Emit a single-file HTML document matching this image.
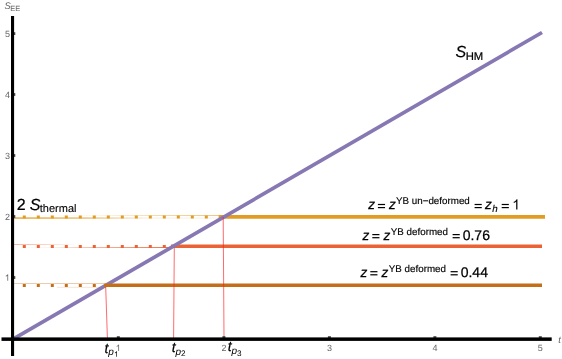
<!DOCTYPE html>
<html>
<head>
<meta charset="utf-8">
<title>Entanglement entropy plot</title>
<style>
  html, body { margin: 0; padding: 0; background: #ffffff; }
  body { width: 562px; height: 359px; overflow: hidden; font-family: "Liberation Sans", sans-serif; }
  svg { display: block; will-change: transform; }
  text { font-family: "Liberation Sans", sans-serif; text-rendering: geometricPrecision; }
  .tick { font-size: 9px; fill: #666666; }
  .lab { font-size: 14px; fill: #000000; }
  .sup { font-size: 9.8px; fill: #000000; }
  .big { font-size: 16px; fill: #000000; }
  .it { font-style: italic; }
</style>
</head>
<body>
<svg width="562" height="359" viewBox="0 0 562 359">
  <rect x="0" y="0" width="562" height="359" fill="#ffffff"/>
  <defs>
    <path id="one" d="M763 0 L583 0 L583 1147 Q518 1085 412.5 1023 Q307 961 223 930 L223 1104 Q374 1175 487 1276 Q600 1377 647 1472 L763 1472 Z"/>
    <g id="eq"><rect x="0" y="-5.5" width="7.15" height="1.2"/><rect x="0" y="-2.4" width="7.15" height="1.2"/></g>
  </defs>

  <!-- thin guide lines of dotted segments -->
  <linearGradient id="gyb" x1="0" y1="0" x2="1" y2="0"><stop offset="0" stop-color="#E19C24" stop-opacity="1"/><stop offset="0.35" stop-color="#E19C24" stop-opacity="0.7"/><stop offset="0.65" stop-color="#E19C24" stop-opacity="0.15"/><stop offset="1" stop-color="#E19C24" stop-opacity="0.1"/></linearGradient>
  <linearGradient id="gyt" x1="0" y1="0" x2="1" y2="0"><stop offset="0" stop-color="#E19C24" stop-opacity="0"/><stop offset="0.4" stop-color="#E19C24" stop-opacity="0.1"/><stop offset="0.7" stop-color="#E19C24" stop-opacity="0.45"/><stop offset="1" stop-color="#E19C24" stop-opacity="0.7"/></linearGradient>
  <linearGradient id="grt" x1="0" y1="0" x2="1" y2="0"><stop offset="0" stop-color="#EB6235" stop-opacity="0.85"/><stop offset="0.2" stop-color="#EB6235" stop-opacity="0.5"/><stop offset="0.4" stop-color="#EB6235" stop-opacity="0"/><stop offset="1" stop-color="#EB6235" stop-opacity="0"/></linearGradient>
  <linearGradient id="grb" x1="0" y1="0" x2="1" y2="0"><stop offset="0" stop-color="#EB6235" stop-opacity="0"/><stop offset="0.25" stop-color="#EB6235" stop-opacity="0.1"/><stop offset="0.5" stop-color="#EB6235" stop-opacity="0.5"/><stop offset="1" stop-color="#EB6235" stop-opacity="1"/></linearGradient>
  <rect x="14" y="217.4" width="205" height="1.3" fill="url(#gyb)"/>
  <rect x="14" y="215.0" width="205" height="0.8" fill="url(#gyt)"/>
  <rect x="14" y="244.2" width="158" height="0.55" fill="url(#grt)"/>
  <rect x="14" y="247.0" width="158" height="0.9" fill="url(#grb)"/>
  <rect x="14" y="283.3" width="90" height="0.7" fill="#C56E1A" fill-opacity="0.5"/>
  <rect x="57" y="286.9" width="47" height="0.7" fill="#C56E1A" fill-opacity="0.25"/>

  <!-- dotted segments -->
  <g stroke-width="3.1" fill="none" stroke-dasharray="3 11">
    <line x1="22.8" y1="216.95" x2="219" y2="216.95" stroke="#E19C24"/>
    <line x1="22.8" y1="246.45" x2="172" y2="246.45" stroke="#EB6235"/>
    <line x1="22.8" y1="285.45" x2="104" y2="285.45" stroke="#C56E1A"/>
  </g>

  <!-- solid yellow / red -->
  <line x1="218.8" y1="216.9" x2="545" y2="216.9" stroke="#E19C24" stroke-width="3.6"/>
  <line x1="171" y1="246.2" x2="542" y2="246.2" stroke="#EB6235" stroke-width="3.4"/>

  <!-- purple S_HM line -->
  <line x1="13" y1="339.2" x2="542" y2="32.5" stroke="#8778B3" stroke-width="3.7"/>

  <!-- brown solid (on top of purple) -->
  <line x1="104" y1="285.3" x2="542" y2="285.3" stroke="#C56E1A" stroke-width="3.4"/>

  <!-- thin red vertical lines -->
  <g stroke="#FF1A1A" stroke-width="0.65" fill="none">
    <line x1="105.7" y1="287" x2="107.4" y2="338"/>
    <line x1="174.3" y1="247.8" x2="173.6" y2="338"/>
    <line x1="223.2" y1="217" x2="224" y2="338"/>
  </g>

  <!-- ticks -->
  <g fill="#444444">
    <rect x="116.8" y="336.2" width="3" height="2"/>
    <rect x="222.4" y="336.2" width="3" height="2"/>
    <rect x="327.9" y="336.2" width="3" height="2"/>
    <rect x="433.4" y="336.2" width="3" height="2"/>
    <rect x="538.8" y="336.2" width="3" height="2"/>
    <rect x="13.5" y="32.2" width="1.8" height="2.8"/>
    <rect x="13.5" y="93.1" width="1.8" height="2.8"/>
    <rect x="13.5" y="154.1" width="1.8" height="2.8"/>
    <rect x="13.5" y="215.1" width="1.8" height="2.8"/>
    <rect x="13.5" y="276.1" width="1.8" height="2.8"/>
  </g>

  <!-- axes -->
  <rect x="11" y="16" width="3.1" height="340" fill="#000000"/>
  <rect x="1.5" y="337.4" width="550.2" height="3.5" fill="#000000"/>

  <!-- y tick labels -->
  <g class="tick" text-anchor="middle">
    <text x="7.4" y="36.7">5</text>
    <text x="7.4" y="97.7">4</text>
    <text x="7.4" y="158.7">3</text>
    <text x="7.4" y="219.7">2</text>
    <use href="#one" transform="translate(4.8 280.7) scale(0.0044 -0.0044)" fill="#666666"/>
  </g>
  <!-- x tick labels -->
  <g class="tick" text-anchor="middle">
    <use href="#one" transform="translate(115.7 350.9) scale(0.0044 -0.0044)" fill="#666666"/>
    <text x="223.9" y="350.9">2</text>
    <text x="329.5" y="350.9">3</text>
    <text x="434.9" y="350.9">4</text>
    <text x="540.3" y="350.9">5</text>
  </g>

  <!-- axis labels -->
  <text x="4.5" y="9.3" class="tick it" style="font-size:9.5px">S</text>
  <text x="10.2" y="11.3" class="tick" style="font-size:7.5px">EE</text>
  <text x="558.2" y="343" class="tick it" style="font-size:9.6px">t</text>

  <g stroke="#000000" stroke-width="0.2">
  <!-- S_HM -->
  <text x="455.6" y="57.2" class="big it">S</text>
  <text x="465.7" y="59.8" style="font-size:11.3px">HM</text>

  <!-- 2 S_thermal -->
  <text x="16.8" y="209.9" class="big">2</text>
  <text x="29.8" y="209.9" class="big it">S</text>
  <text x="39.8" y="212.4" style="font-size:11px" stroke-width="0.1">thermal</text>

  <!-- t_p labels -->
  <text x="104.5" y="352.7" class="lab it">t</text>
  <text x="108.2" y="354.8" class="it" style="font-size:10px" stroke="none">p</text>
  <use href="#one" transform="translate(114.1 356.8) scale(0.0037 -0.0037)" fill="#000000" stroke="none"/>

  <text x="171.7" y="351.5" class="lab it">t</text>
  <text x="175.5" y="354.5" class="it" style="font-size:10px" stroke="none">p</text>
  <text x="180.9" y="355.8" style="font-size:8.2px" stroke="none">2</text>

  <text x="227.7" y="351.1" class="lab it">t</text>
  <text x="231.5" y="354.0" class="it" style="font-size:10px" stroke="none">p</text>
  <text x="236.9" y="355.8" style="font-size:8.2px" stroke="none">3</text>
  </g>

  <!-- line labels -->
  <g class="lab" stroke="#000000" stroke-width="0.25">
    <text x="368.2" y="209.4" class="it" style="font-size:13.6px">z</text>
    <use href="#eq" x="377.9" y="209.4" stroke="none"/>
    <text x="389.0" y="209.4" class="it" style="font-size:13.6px">z</text>
    <text x="396" y="204.4" class="sup" stroke-width="0.15">YB un&#8722;deformed</text>
    <use href="#eq" x="474.6" y="209.4" stroke="none"/>
    <text x="485.1" y="209.4" class="it" style="font-size:13.6px">z</text>
    <text x="492.3" y="211.7" class="sup it" stroke-width="0.15">h</text>
    <use href="#eq" x="501.7" y="209.4" stroke="none"/>
    <use href="#one" transform="translate(512.2 209.4) scale(0.00684 -0.00684)" fill="#000000" stroke="none"/>

    <text x="362.6" y="239.5" class="it" style="font-size:13.6px">z</text>
    <use href="#eq" x="372.3" y="239.5" stroke="none"/>
    <text x="383.4" y="239.5" class="it" style="font-size:13.6px">z</text>
    <text x="390.8" y="234.5" class="sup" stroke-width="0.15">YB deformed</text>
    <use href="#eq" x="452.6" y="239.5" stroke="none"/>
    <text x="462.7" y="239.5">0.76</text>

    <text x="360.6" y="276.6" class="it" style="font-size:13.6px">z</text>
    <use href="#eq" x="370.3" y="276.6" stroke="none"/>
    <text x="381.4" y="276.6" class="it" style="font-size:13.6px">z</text>
    <text x="388.8" y="271.6" class="sup" stroke-width="0.15">YB deformed</text>
    <use href="#eq" x="450.6" y="276.6" stroke="none"/>
    <text x="460.7" y="276.6">0.44</text>
  </g>
</svg>
</body>
</html>
